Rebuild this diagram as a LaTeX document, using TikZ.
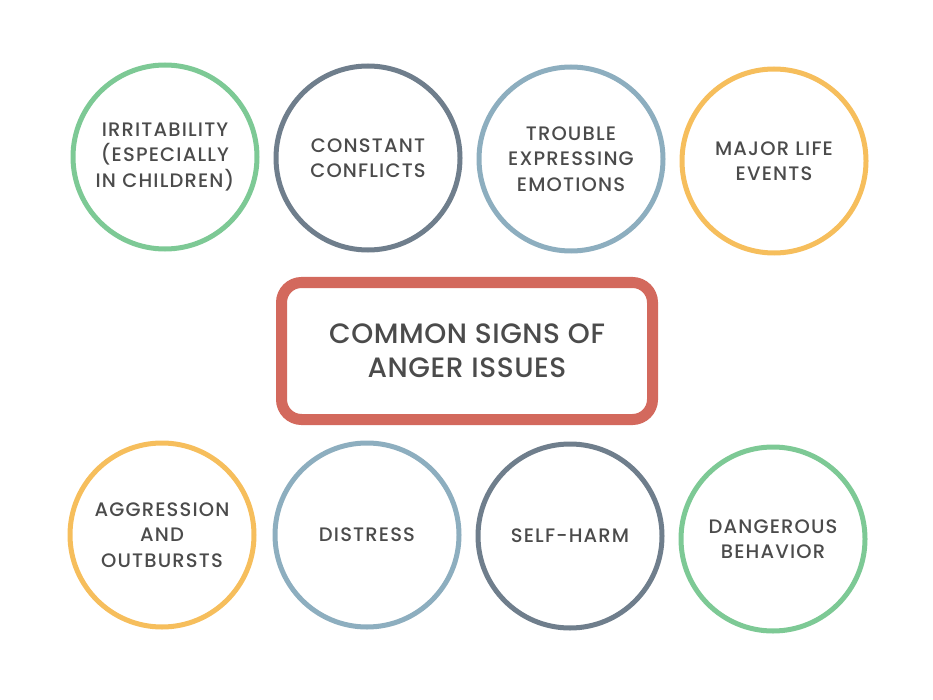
\documentclass[tikz,border=0pt]{standalone}
\usepackage{fontspec}
\setmainfont{Poppins Medium}[LetterSpace=6]
\usepackage{tikz}
\definecolor{signgreen}{HTML}{7DC995}
\definecolor{signslate}{HTML}{6F7E8C}
\definecolor{signblue}{HTML}{8DAEBF}
\definecolor{signyellow}{HTML}{F6BE5C}
\definecolor{signred}{HTML}{D3695D}
\definecolor{signtext}{HTML}{4B4B4B}

\begin{document}
\begin{tikzpicture}[x=1pt, y=-1pt,
    sign/.style ={circle, draw, line width=5pt, minimum size=184pt, inner sep=0pt,
      align=center, text=signtext, font=\fontsize{19.5}{25.5}\selectfont},
    title/.style ={rectangle, draw=signred, line width=11pt, rounded corners=20pt,
      minimum width=371pt, minimum height=137pt, align=center, text=signtext,
      font=\fontsize{28}{34}\selectfont\addfontfeature{LetterSpace=2}}]
   \useasboundingbox (0,0) rectangle (933,700);
   \node[title] (T) at (467,351) {COMMON SIGNS OF\\ANGER ISSUES};
   % top row
   \node[sign, draw=signgreen] (S1) at (165,157) {IRRITABILITY\\(ESPECIALLY\\IN CHILDREN)};
   \node[sign, draw=signslate] (S2) at (368,158) {CONSTANT\\CONFLICTS};
   \node[sign, draw=signblue] (S3) at (571,159) {TROUBLE\\EXPRESSING\\EMOTIONS};
   \node[sign, draw=signyellow] (S4) at (774,161) {MAJOR LIFE\\EVENTS};
   % bottom row
   \node[sign, draw=signyellow] (S5) at (162,535) {AGGRESSION\\AND\\OUTBURSTS};
   \node[sign, draw=signblue] (S6) at (367,535) {DISTRESS};
   \node[sign, draw=signslate] (S7) at (570,536) {SELF-HARM};
   \node[sign, draw=signgreen] (S8) at (773,539) {DANGEROUS\\BEHAVIOR};
 \end{tikzpicture}
\end{document}
